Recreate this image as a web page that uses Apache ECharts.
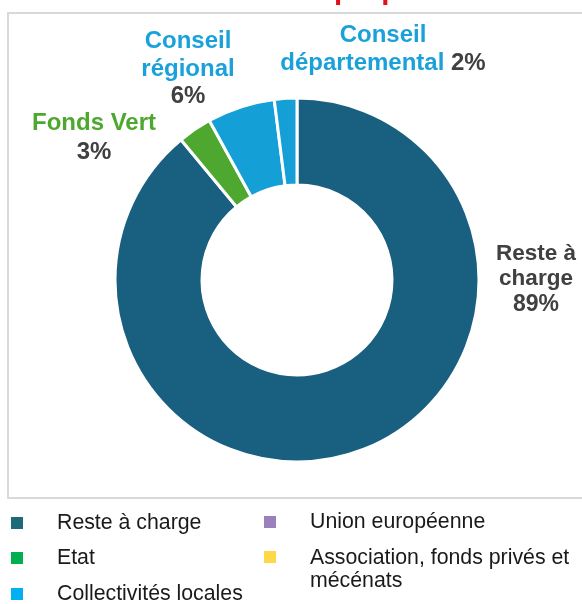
<!DOCTYPE html>
<html>
<head>
<meta charset="utf-8">
<script src="https://cdn.jsdelivr.net/npm/echarts@6/dist/echarts.min.js"></script>
<style>
  html, body { margin: 0; padding: 0; background: #ffffff; }
  #chart { width: 582px; height: 604px; }
</style>
</head>
<body>
<div id="chart"></div>
<script>
// Financing sources of the proposed plan (percent of total)
const sliceNames = ['Reste à charge', 'Fonds Vert', 'Conseil régional', 'Conseil départemental'];
const sliceValues = [89, 3, 6, 2];
const sliceColors = ['#185f80', '#4ea72e', '#149fd7', '#149fd7'];

// Label wording, split over lines, and the colour of each name
const labelLines = [['Reste à', 'charge'], ['Fonds Vert'], ['Conseil', 'régional'], ['Conseil', 'départemental']];
const labelNameColors = ['#404040', '#4ea72e', '#1ba1d9', '#1ba1d9'];
const valueOnNameLine = [false, false, false, true];

// Legend entries of the financing categories
const legendNames = ['Reste à charge', 'Etat', 'Collectivités locales', 'Union européenne', 'Association, fonds privés et\nmécénats'];
const legendColors = ['#1f6a7a', '#00b050', '#00b0f0', '#9c7fbd', '#ffd84a'];

const titleText = 'Plan de financement proposé';

const FONT = '"Liberation Sans", Arial, sans-serif';

// Label placement (centre of each label block)
const labelAnchors = [[536, 279], [94, 138], [188, 69], [383, 49]];
const labelLineHeights = [25.5, 29, 27.5, 28];
const labelNameSizes = [22.5, 24, 24, 24];
const labelValueSizes = [23, 24, 24, 24];

const rich = {};
sliceNames.forEach(function (n, i) {
  rich['n' + i] = {
    color: labelNameColors[i], fontWeight: 'bold', fontFamily: FONT,
    fontSize: labelNameSizes[i], lineHeight: labelLineHeights[i]
  };
  rich['v' + i] = {
    color: '#404040', fontWeight: 'bold', fontFamily: FONT,
    fontSize: labelValueSizes[i], lineHeight: labelLineHeights[i]
  };
});

function labelFormatter(p) {
  const i = p.dataIndex;
  const lines = labelLines[i].map(function (t) { return '{n' + i + '|' + t + '}'; });
  const val = '{v' + i + '|' + p.value + '%}';
  if (valueOnNameLine[i]) {
    lines[lines.length - 1] += '{v' + i + '| }' + val;
  } else {
    lines.push(val);
  }
  return lines.join('\n');
}

// Legend drawn as two columns of square swatches and names
const legendSlots = [[11, 517], [11, 552], [11, 588], [264, 516], [264, 551]];
const legendGraphics = [];
legendNames.forEach(function (name, i) {
  const s = legendSlots[i];
  legendGraphics.push({
    type: 'rect', left: s[0], top: s[1],
    shape: { width: 12, height: 12 },
    style: { fill: legendColors[i] }
  });
  legendGraphics.push({
    type: 'text', x: i < 3 ? 57 : 310, y: s[1] + 6,
    style: {
      text: name, fill: '#1a1a1a', font: '21.3px ' + FONT,
      verticalAlign: 'middle', align: 'left', lineHeight: 23
    }
  });
});
// the two-line entry hangs from its first line
legendGraphics[legendGraphics.length - 1].style.verticalAlign = 'top';
legendGraphics[legendGraphics.length - 1].y = legendSlots[4][1] - 4.5;

const chart = echarts.init(document.getElementById('chart'), null, { renderer: 'canvas' });
chart.setOption({
  backgroundColor: '#ffffff',
  animation: false,
  graphic: [
    {
      type: 'text', x: 40, y: 6,
      style: { text: titleText, fill: '#e3101b', font: 'bold 29.4px ' + FONT, verticalAlign: 'bottom', lineHeight: 29.4 }
    },
    {
      type: 'rect', shape: { x: 8, y: 13, width: 600, height: 485 },
      style: { fill: 'none', stroke: '#d9d9d9', lineWidth: 2 }
    }
  ].concat(legendGraphics),
  series: [{
    type: 'pie',
    center: [297, 280],
    radius: [95, 182],
    startAngle: 90,
    clockwise: true,
    avoidLabelOverlap: false,
    itemStyle: { borderColor: '#ffffff', borderWidth: 3 },
    label: { show: true, position: 'outside', formatter: labelFormatter, rich: rich },
    labelLine: { show: false },
    labelLayout: function (p) {
      const a = labelAnchors[p.dataIndex];
      return { x: a[0], y: a[1], align: 'center', verticalAlign: 'middle' };
    },
    emphasis: { disabled: true },
    data: sliceNames.map(function (n, i) {
      return { name: n, value: sliceValues[i], itemStyle: { color: sliceColors[i] } };
    })
  }]
});
</script>
</body>
</html>
